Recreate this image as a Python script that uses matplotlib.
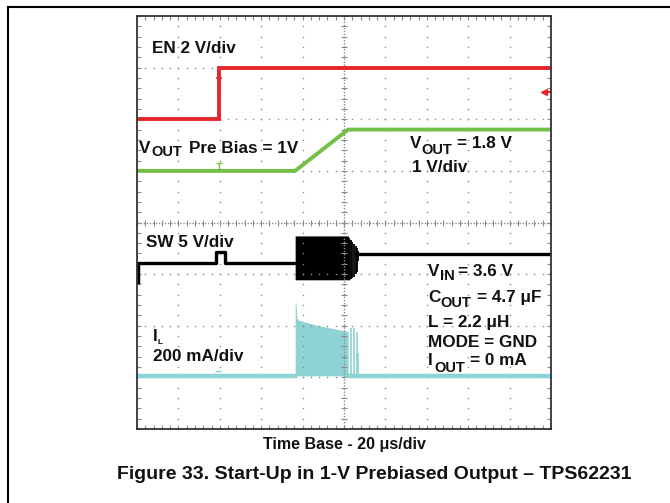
import numpy as np
import matplotlib as mpl
mpl.use('Agg')
import matplotlib.pyplot as plt
from matplotlib.lines import Line2D

W, H = 670, 503

# scope screen: 10 x 8 divisions, values read in divisions
en_t = [0.0, 1.98, 1.98, 10.0]
en_v = [6.0, 6.0, 7.0, 7.0]

vout_t = [0.0, 3.82, 5.1, 10.0]
vout_v = [5.0, 5.0, 5.8, 5.8]

# SW node: idle levels before / after start-up, small pulse, switching burst envelope
sw_pre_t = [0.0, 1.9, 1.9, 2.12, 2.12, 3.82]
sw_pre_v = [3.22, 3.22, 3.43, 3.43, 3.22, 3.22]
sw_post_t = [5.3, 10.0]
sw_post_v = [3.39, 3.39]
sw_burst_t = [3.82, 5.1, 5.14]
sw_burst_top = [3.74, 3.74, 3.68]
sw_burst_bot = [2.89, 2.89, 2.89]
sw_spike_t = [5.16, 5.2, 5.24, 5.28, 5.32, 5.35]
sw_spike_top = [3.66, 3.62, 3.58, 3.54, 3.5, 3.45]
sw_spike_bot = [2.9, 2.92, 2.95, 3.0, 3.05, 3.25]

# inductor current
il_base = 1.03
il_burst_t = [3.82, 3.84, 3.86, 3.9, 4.34, 4.9, 5.1]
il_burst_top = [2.44, 2.44, 2.15, 2.11, 2.01, 1.92, 1.89]
il_spike_t = [5.18, 5.24, 5.31, 5.35]
il_spike_top = [1.96, 1.96, 1.88, 1.47]

RED = '#e5262d'
GREEN = '#74bf45'
CYAN = '#8ed3d3'
GRID = '#8a8a8a'

plt.rcParams['font.family'] = ['Liberation Sans', 'DejaVu Sans']

fig = plt.figure(figsize=(W / 100, H / 100), dpi=100)
fig.patch.set_facecolor('white')

# outer frame (top and left rules)
fig.add_artist(Line2D([8 / W, 1.0], [1 - 7 / H, 1 - 7 / H], color='black', lw=1.5))
fig.add_artist(Line2D([8 / W, 8 / W], [1 - 7 / H, 0.0], color='black', lw=1.5))

ax = fig.add_axes([137 / W, (H - 429) / H, 414 / W, 413 / H])
ax.set_xlim(0, 10)
ax.set_ylim(0, 8)
for s in ax.spines.values():
    s.set_linewidth(1.3)
    s.set_color('#333333')
ax.set_xticks(np.arange(0, 10.01, 1))
ax.set_yticks(np.arange(0, 8.01, 1))
ax.set_xticks(np.arange(0, 10.01, 0.2), minor=True)
ax.set_yticks(np.arange(0, 8.01, 0.2), minor=True)
ax.tick_params(which='both', direction='in', length=3, width=0.8, color=GRID,
               top=True, right=True, labelbottom=False, labelleft=False)

# dotted graticule
ydots = np.arange(0, 8.01, 0.2)
xdots = np.arange(0, 10.01, 0.2)
for gx in range(1, 10):
    if gx == 5:
        continue
    ax.plot([gx] * len(ydots), ydots, ls='none', marker='s', ms=1.0, color=GRID, mew=0)
for gy in range(1, 8):
    if gy == 4:
        continue
    ax.plot(xdots, [gy] * len(xdots), ls='none', marker='s', ms=1.0, color=GRID, mew=0)
# centre cross with minor ticks
ax.axvline(5, color=GRID, lw=1.0, ls=(0, (1, 1.2)))
ax.axhline(4, color=GRID, lw=1.0, ls=(0, (1, 1.2)))
ax.plot([5] * len(ydots), ydots, ls='none', marker='_', ms=5, mew=0.8, color=GRID)
ax.plot(xdots, [4] * len(xdots), ls='none', marker='|', ms=5, mew=0.8, color=GRID)

# traces
ax.plot(en_t, en_v, color=RED, lw=2.8, solid_joinstyle='miter')
ax.plot([9.83], [6.53], marker='<', ms=5, color=RED, clip_on=False)
ax.plot([9.83, 9.97], [6.53, 6.53], color=RED, lw=1.5)
ax.plot([1.98, 1.98], [6.45, 6.8], color=RED, lw=1.2)
ax.plot([1.98], [6.8], marker='_', ms=5, mew=1.2, color=RED)

ax.plot(vout_t, vout_v, color=GREEN, lw=2.8)
ax.plot([1.98, 1.98], [5.0, 5.15], color=GREEN, lw=1.0)
ax.plot([1.98], [5.15], marker='_', ms=4, mew=1.0, color=GREEN)

ax.plot(sw_pre_t, sw_pre_v, color='black', lw=2.4)
ax.plot(sw_post_t, sw_post_v, color='black', lw=2.4)
ax.fill_between(sw_burst_t, sw_burst_bot, sw_burst_top, color='black', lw=0)
ax.vlines(sw_spike_t, sw_spike_bot, sw_spike_top, color='black', lw=1.3)
ax.plot([0.02, 0.02], [2.85, 3.15], color='black', lw=2.5)

ax.plot([0, 3.82], [il_base, il_base], color=CYAN, lw=3.2)
ax.plot([5.1, 10], [il_base, il_base], color=CYAN, lw=3.2)
ax.fill_between(il_burst_t, il_base, il_burst_top, color=CYAN, lw=0)
ax.vlines(il_spike_t, il_base, il_spike_top, color=CYAN, lw=1.2)
ax.plot([1.95], [1.12], marker='_', ms=4, mew=1.0, color=CYAN)


def ptext(x, y, s, size=12.3, **kw):
    fig.text(x / W, 1 - y / H, s, fontsize=size, fontweight='bold',
             ha=kw.pop('ha', 'left'), va='baseline', color='#111111', **kw)


# channel labels inside the screen
ptext(152, 53, 'EN 2 V/div')
ptext(139, 153, 'V')
ptext(151, 156, 'OUT', size=10.5)
ptext(189, 153, 'Pre Bias = 1V')
ptext(410, 148, 'V')
ptext(421, 154, 'OUT', size=10.5)
ptext(457, 148, '= 1.8 V')
ptext(412, 172, '1 V/div')
ptext(146, 247, 'SW 5 V/div')
ptext(153, 341, 'I')
ptext(158, 344, 'L', size=6)
ptext(153, 361, '200 mA/div')

ptext(428, 276, 'V')
ptext(440, 280, 'IN', size=10.5)
ptext(458, 276, '= 3.6 V')
ptext(428, 302, 'C')
ptext(440, 307, 'OUT', size=10.5)
ptext(477, 302, '= 4.7 \u03bcF')
ptext(428, 327, 'L = 2.2 \u03bcH')
ptext(428, 347, 'MODE = GND')
ptext(428, 365, 'I')
ptext(434, 372, 'OUT', size=10.5)
ptext(470, 365, '= 0 mA')

ptext(344, 449, 'Time Base - 20 \u03bcs/div', size=11.5, ha='center')
ptext(117, 479, 'Figure 33. Start-Up in 1-V Prebiased Output \u2013 TPS62231', size=14)

plt.savefig('out.png', dpi=100)
